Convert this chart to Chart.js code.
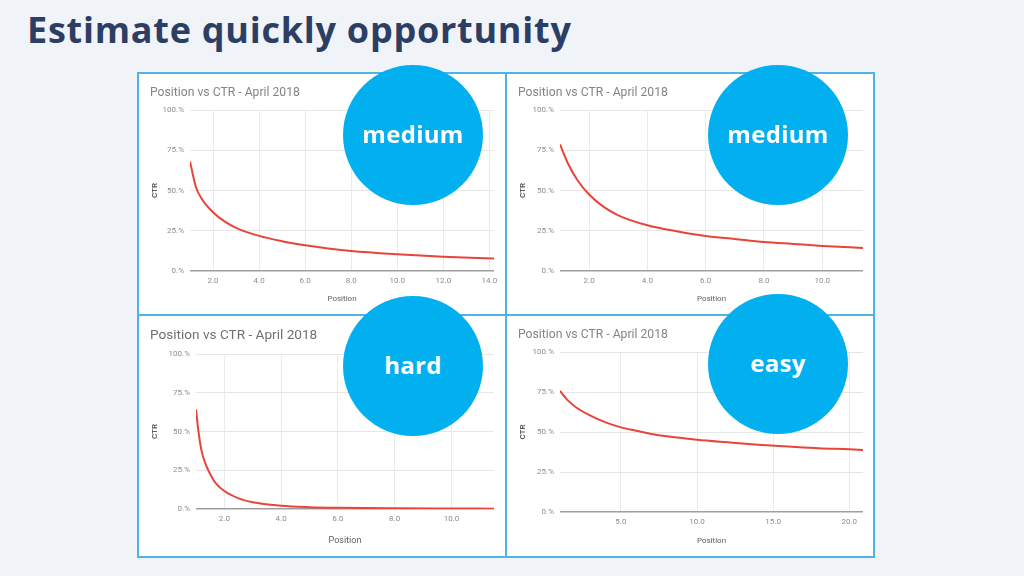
<!DOCTYPE html>
<html>
<head>
<meta charset="utf-8">
<script src="https://cdn.jsdelivr.net/npm/chart.js@4.4.1/dist/chart.umd.min.js"></script>
<style>
  html, body { margin: 0; padding: 0; }
  body { width: 1024px; height: 576px; background: #f0f3f7; position: relative; overflow: hidden; font-family: "Open Sans", sans-serif; }
  #title { position: absolute; left: 27px; top: 12px; font-weight: 700; font-size: 36px; line-height: 1; color: #2c3e63; white-space: nowrap; letter-spacing: 0.75px; }
  .panel { position: absolute; box-sizing: border-box; width: 370px; height: 244px; border: 2px solid #4fb4e3; background: #fff; }
  .panel canvas { position: absolute; left: 0; top: 0; }
  .bubble { position: absolute; width: 140px; height: 140px; border-radius: 50%; background: #02b0f0; color: #fff; font-weight: 700; font-size: 24px; display: flex; align-items: center; justify-content: center; z-index: 5; letter-spacing: 0.3px; box-sizing: border-box; padding-bottom: 4px; }
</style>
</head>
<body>
<div id="title">Estimate quickly opportunity</div>

<div class="panel" style="left:137px; top:72px;"><canvas id="c1" width="366" height="240"></canvas></div>
<div class="panel" style="left:505px; top:72px;"><canvas id="c2" width="366" height="240"></canvas></div>
<div class="panel" style="left:137px; top:314px;"><canvas id="c3" width="366" height="240"></canvas></div>
<div class="panel" style="left:505px; top:314px;"><canvas id="c4" width="366" height="240"></canvas></div>

<div class="bubble" style="left:343px; top:65px;">medium</div>
<div class="bubble" style="left:708px; top:65px;">medium</div>
<div class="bubble" style="left:343px; top:296px;">hard</div>
<div class="bubble" style="left:708px; top:294px;">easy</div>

<script>
// position -> CTR (%)
const pos1 = [1, 1.25, 1.5, 2, 2.5, 3, 4, 5, 6, 7, 8, 10, 12, 14.2];
const ctr1 = [68.1, 52.5, 45, 36.5, 30.8, 26.8, 21.8, 18.5, 16, 14, 12.4, 10.4, 8.9, 7.7];

const pos2 = [1, 1.3, 1.6, 2, 2.5, 3, 4, 5, 6, 7, 8, 9, 10, 11.4];
const ctr2 = [78.6, 65.8, 56.4, 47.5, 39.8, 34.6, 28.4, 24.7, 21.8, 19.9, 18, 16.8, 15.6, 14.3];

const pos3 = [1, 1.08, 1.19, 1.36, 1.53, 1.7, 2, 2.5, 3, 4, 5, 6, 8, 10, 11.5];
const ctr3 = [64.3, 51, 38, 28, 21.5, 16.6, 11.6, 6.9, 4.3, 2.1, 1.2, 0.8, 0.45, 0.3, 0.2];

const pos4 = [1, 1.5, 2, 3, 4, 5, 6, 7, 8, 10, 12, 14, 16, 18, 20, 20.9];
const ctr4 = [75.7, 69.9, 65.8, 60.2, 56, 52.9, 50.8, 48.8, 47.3, 45.2, 43.6, 42.1, 40.9, 39.8, 39.2, 38.8];

const yTicks = [0, 25, 50, 75, 100];
const chartTitle = "Position vs CTR - April 2018";

function drawChart(id, xs, ys, cfg) {
  const ctx = document.getElementById(id).getContext("2d");
  return new Chart(ctx, {
    type: "line",
    data: {
      datasets: [{
        data: xs.map((x, i) => ({ x: x, y: ys[i] })),
        borderColor: "#e8443a",
        borderWidth: 2,
        pointRadius: 0,
        cubicInterpolationMode: "monotone",
        fill: false,
      }],
    },
    options: {
      responsive: false,
      animation: false,
      devicePixelRatio: 1,
      layout: { padding: { left: 11, right: 366 - cfg.right, top: 0, bottom: 0 } },
      plugins: {
        legend: { display: false },
        tooltip: { enabled: false },
        title: {
          display: true,
          text: chartTitle,
          align: "start",
          color: cfg.titleColor,
          font: { family: "Roboto", size: cfg.titleSize, weight: "normal" },
          padding: { top: cfg.top - 10 - cfg.titleSize * 1.2, bottom: 10 },
        },
      },
      scales: {
        x: {
          type: "linear",
          min: 1,
          max: xs[xs.length - 1],
          afterFit: (scale) => { scale.height = 240 - cfg.bottom; },
          border: { display: false },
          grid: { color: "#ebebeb", drawTicks: false },
          ticks: {
            stepSize: cfg.step,
            includeBounds: false,
            autoSkip: false,
            maxRotation: 0,
            padding: 5,
            color: "#8c8c8c",
            font: { family: "Roboto", size: 8 },
            callback: (v) => v.toFixed(1),
          },
          title: {
            display: true,
            text: "Position",
            color: "#5f5f5f",
            font: { family: "Roboto", size: cfg.axisSize },
            padding: { top: 0, bottom: 10 },
          },
        },
        y: {
          min: 0,
          max: 100,
          afterFit: (scale) => { scale.width = cfg.left - 11; },
          afterBuildTicks: (scale) => { scale.ticks = yTicks.map((v) => ({ value: v })); },
          border: { display: false },
          grid: {
            drawTicks: false,
            color: (c) => (c.tick && c.tick.value === 0 ? "#9e9e9e" : "#e6e6e6"),
            lineWidth: (c) => (c.tick && c.tick.value === 0 ? 1.5 : 1),
          },
          ticks: {
            padding: 6,
            color: "#8c8c8c",
            font: { family: "Roboto", size: 8 },
            callback: (v) => v + ".%",
          },
          title: {
            display: true,
            text: "CTR",
            color: "#5f5f5f",
            font: { family: "Roboto", size: 8, weight: "bold" },
            padding: 0,
          },
        },
      },
    },
  });
}

drawChart("c1", pos1, ctr1, { left: 51, right: 355, top: 36, bottom: 197, step: 2, titleSize: 12.2, titleColor: "#858585", axisSize: 8 });
drawChart("c2", pos2, ctr2, { left: 53, right: 356, top: 36, bottom: 197, step: 2, titleSize: 12.2, titleColor: "#858585", axisSize: 8 });
drawChart("c3", pos3, ctr3, { left: 57, right: 355, top: 38, bottom: 193, step: 2, titleSize: 13.6, titleColor: "#707070", axisSize: 9 });
drawChart("c4", pos4, ctr4, { left: 53, right: 356, top: 36, bottom: 196, step: 5, titleSize: 12.2, titleColor: "#858585", axisSize: 8 });
</script>
</body>
</html>
